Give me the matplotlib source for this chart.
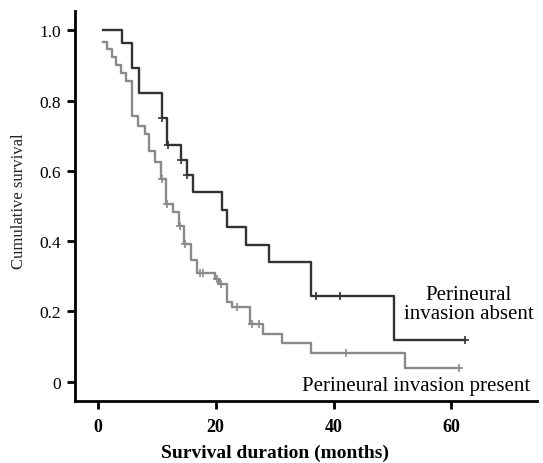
import numpy as np
import matplotlib
matplotlib.use("Agg")
import matplotlib.pyplot as plt

# ---- data ----
absent_times = [1.0, 4.1, 5.9, 7.0, 10.9, 11.8, 14.1, 15.1, 16.1, 21.1, 22.0, 25.1, 29.1, 36.2, 50.2, 62.3]
absent_surv = [1.0, 0.964, 0.892, 0.823, 0.750, 0.674, 0.631, 0.589, 0.539, 0.490, 0.439, 0.390, 0.341, 0.243, 0.120, 0.120]
absent_censor = [11.0, 12.0, 14.2, 15.2, 37.1, 41.1, 62.3]

present_times = [1.0, 1.6, 2.4, 3.2, 4.0, 4.8, 5.9, 6.9, 8.0, 8.8, 9.7, 10.7, 11.6, 12.8, 13.8, 14.7,
                 15.8, 16.9, 19.9, 20.6, 21.9, 22.8, 25.9, 28.0, 31.2, 36.2, 52.1, 61.2]
present_surv = [0.968, 0.946, 0.924, 0.902, 0.879, 0.856, 0.757, 0.727, 0.705, 0.657, 0.624, 0.577, 0.506,
                0.483, 0.442, 0.392, 0.345, 0.309, 0.292, 0.277, 0.226, 0.212, 0.164, 0.136, 0.109, 0.082,
                0.039, 0.039]
present_censor = [10.9, 11.8, 14.0, 14.9, 17.3, 17.8, 20.3, 21.0, 23.7, 26.1, 27.3, 42.1, 61.2]

x_ticks = [0, 20, 40, 60]
y_ticks = [0, 0.2, 0.4, 0.6, 0.8, 1.0]
y_ticklabels = ["0", "0.2", "0.4", "0.6", "0.8", "1.0"]


def surv_at(times, surv, t):
    idx = np.searchsorted(np.asarray(times), t, side="right") - 1
    return np.asarray(surv)[idx]


plt.rcParams['font.family'] = ['Liberation Serif', 'DejaVu Serif']

fig = plt.figure(figsize=(5.43, 4.64), dpi=100)
ax = fig.add_axes([0.138, 0.1336, 0.851, 0.8404])

dark = '#333333'
gray = '#8a8a8a'

ax.step(absent_times, absent_surv, where='post', color=dark, lw=1.7)
ax.plot(absent_censor, surv_at(absent_times, absent_surv, absent_censor), ls='none',
        marker='+', ms=6, mew=1.2, color=dark)
ax.step(present_times, present_surv, where='post', color=gray, lw=1.7)
ax.plot(present_censor, surv_at(present_times, present_surv, present_censor), ls='none',
        marker='+', ms=6, mew=1.2, color=gray)

ax.set_xlim(-3.83, 74.5)
ax.set_ylim(-0.055, 1.055)

for s in ['top', 'right']:
    ax.spines[s].set_visible(False)
for s in ['left', 'bottom']:
    ax.spines[s].set_linewidth(2.0)

ax.set_xticks(x_ticks)
ax.set_xticklabels([str(v) for v in x_ticks], fontsize=13, fontweight='bold')
ax.set_yticks(y_ticks)
ax.set_yticklabels(y_ticklabels, fontsize=12.5)
ax.tick_params(axis='both', direction='out', length=6, width=2.0, pad=4)
ax.tick_params(axis='x', pad=6)

ax.set_ylabel('Cumulative survival', fontsize=12, color='#222222')
ax.yaxis.set_label_coords(-0.104, 0.515)
fig.text(275 / 543, 1 - 453 / 464, 'Survival duration (months)', ha='center', va='center',
         fontsize=14, fontweight='bold')

ax.text(62.9, 0.221, 'Perineural\ninvasion absent', ha='center', va='center', fontsize=15,
        linespacing=1.05)
ax.text(73.3, -0.012, 'Perineural invasion present', ha='right', va='center', fontsize=15)

fig.savefig('out.png', dpi=100)
